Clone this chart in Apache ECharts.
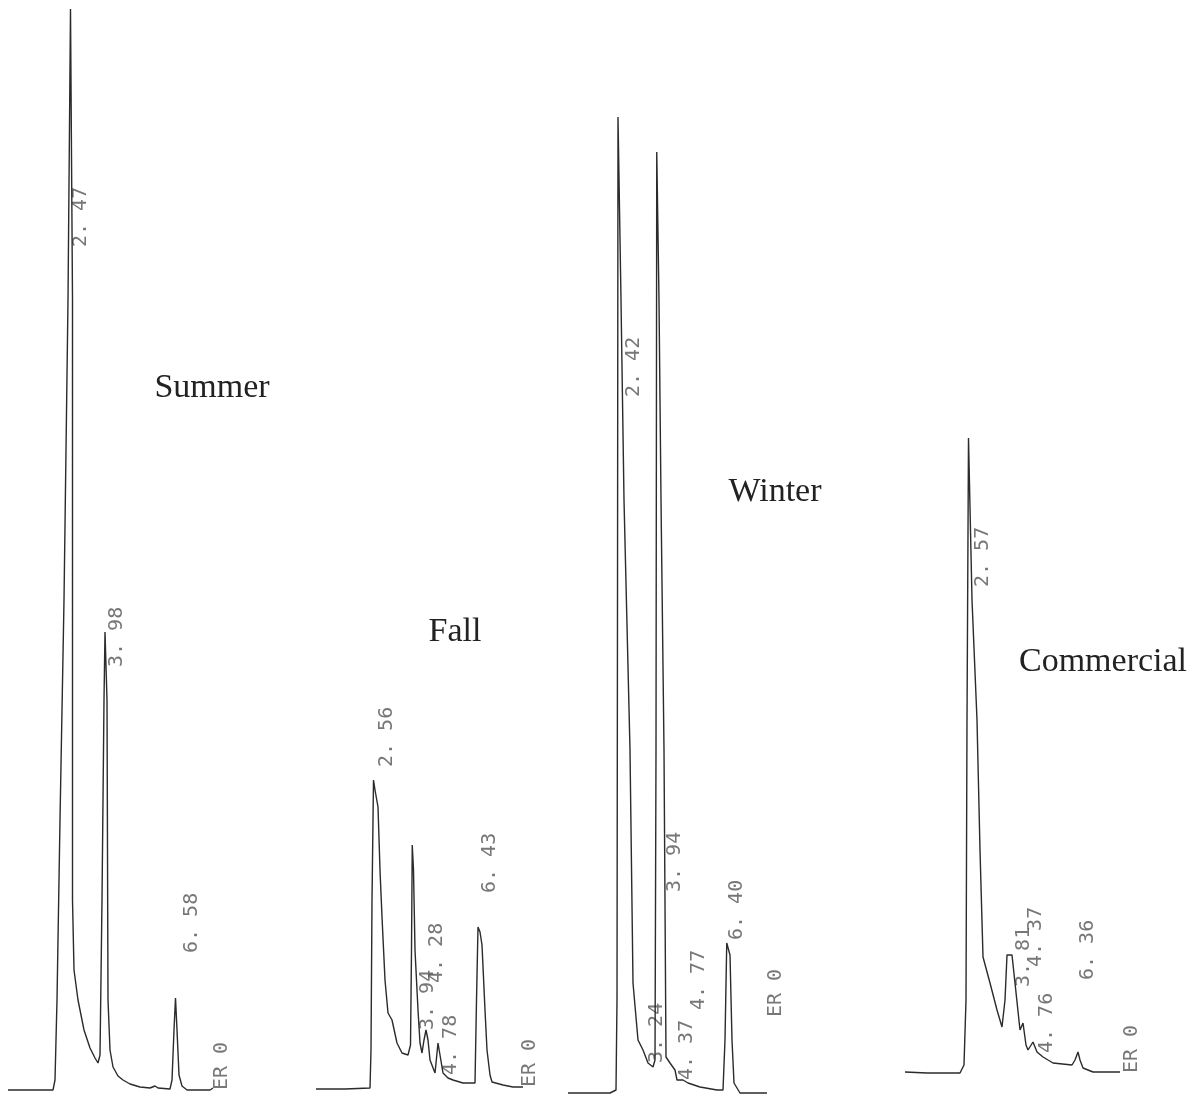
<!DOCTYPE html>
<html>
<head>
<meta charset="utf-8">
<title>Chromatograms by season</title>
<script src="https://cdn.jsdelivr.net/npm/echarts@6/dist/echarts.min.js"></script>
<style>
    html, body { margin: 0; padding: 0; background: #fff; }
    #main { width: 1198px; height: 1098px; }
</style>
</head>
<body>
<div id="main"></div>
<script>
// retention time (min) and detector signal
var summerTime   = [0, 1.80, 1.88, 1.96, 2.08, 2.24, 2.40, 2.50, 2.58, 2.58, 2.58, 2.58, 2.64, 2.80, 3.04, 3.28, 3.48, 3.60, 3.68, 3.76, 3.84, 3.88, 3.92, 3.96, 4.00, 4.08, 4.20, 4.40, 4.60, 4.88, 5.28, 5.68, 5.88, 6.00, 6.48, 6.56, 6.64, 6.70, 6.76, 6.84, 6.96, 7.16, 7.68, 8.08, 8.20];
var summerSignal = [0, 0, 10, 90, 270, 490, 790, 1081, 1081, 790, 490, 190, 120, 90, 60, 42, 32, 27, 35, 190, 390, 458, 458, 390, 90, 40, 23, 14, 10, 6, 3, 2, 4, 2, 1, 10, 60, 92, 60, 15, 4, 0, 0, 0, 2];
var summerPeaks  = ['2. 47', '3. 98', '6. 58', 'ER 0'];
var summerPeakT  = [2.92, 4.36, 7.36, 8.56];
var summerPeakV  = [843, 423, 137, 0];

var fallTime   = [0, 1.16, 2.16, 2.20, 2.24, 2.30, 2.36, 2.48, 2.56, 2.64, 2.76, 2.88, 3.04, 3.24, 3.44, 3.68, 3.78, 3.82, 3.85, 3.90, 3.96, 4.08, 4.16, 4.24, 4.32, 4.40, 4.48, 4.56, 4.76, 4.88, 4.96, 5.08, 5.28, 5.48, 5.88, 6.36, 6.42, 6.48, 6.56, 6.64, 6.76, 6.84, 6.96, 7.04, 7.48, 7.88, 8.28];
var fallSignal = [0, 0, 1, 39, 189, 309, 299, 282, 219, 172, 109, 76, 69, 46, 36, 34, 44, 139, 244, 219, 139, 79, 46, 36, 49, 59, 49, 29, 16, 46, 34, 16, 11, 9, 6, 6, 89, 162, 157, 144, 79, 39, 14, 7, 4, 2, 2];
var fallPeaks  = ['2. 56', '3. 94', '4. 28', '4. 78', '6. 43', 'ER 0'];
var fallPeakT  = [2.84, 4.48, 4.84, 5.40, 6.96, 8.56];
var fallPeakV  = [322, 59, 106, 14, 196, 2];

var winterTime   = [0, 1.68, 1.92, 1.96, 1.98, 2.00, 2.04, 2.12, 2.24, 2.48, 2.60, 2.80, 3.00, 3.20, 3.40, 3.48, 3.52, 3.55, 3.59, 3.64, 3.72, 3.84, 3.92, 4.08, 4.28, 4.36, 4.60, 4.80, 5.28, 5.96, 6.20, 6.28, 6.35, 6.40, 6.48, 6.56, 6.64, 6.88, 7.96];
var winterSignal = [0, 0, 3, 93, 493, 976, 976, 793, 593, 343, 110, 53, 43, 30, 26, 33, 343, 941, 941, 793, 593, 343, 36, 30, 23, 13, 13, 10, 6, 3, 3, 53, 150, 148, 138, 53, 10, 0, 0];
var winterPeaks  = ['2. 42', '3. 24', '3. 94', '4. 37', '4. 77', '6. 40', 'ER 0'];
var winterPeakT  = [2.64, 3.56, 4.28, 4.76, 5.24, 6.76, 8.32];
var winterPeakV  = [696, 30, 201, 13, 83, 153, 76];

var commTime   = [0, 0.88, 2.20, 2.36, 2.44, 2.48, 2.54, 2.68, 2.88, 3.00, 3.12, 3.40, 3.68, 3.88, 4.00, 4.08, 4.28, 4.40, 4.60, 4.72, 4.84, 4.92, 5.12, 5.28, 5.52, 5.92, 6.68, 6.80, 6.92, 7.00, 7.12, 7.52, 8.60];
var commSignal = [1, 0, 0, 8, 73, 353, 635, 473, 353, 223, 116, 90, 63, 46, 73, 118, 118, 90, 43, 50, 28, 23, 31, 21, 16, 10, 8, 13, 21, 13, 5, 1, 1];
var commPeaks  = ['2. 57', '3. 81', '4. 37', '4. 76', '6. 36', 'ER 0'];
var commPeakT  = [3.12, 4.76, 5.24, 5.68, 7.32, 9.08];
var commPeakV  = [486, 86, 106, 20, 93, 0];

var panelNames = ['Summer', 'Fall', 'Winter', 'Commercial'];

init();

function zip(xs, ys) {
    return xs.map(function (x, i) { return [x, ys[i]]; });
}

function peakItems(names, ts, vs) {
    return names.map(function (n, i) { return { name: n, value: [ts[i], vs[i]] }; });
}

function init() {
    var myChart = echarts.init(document.getElementById('main'), null, { renderer: 'canvas' });

    var traces = [
        zip(summerTime, summerSignal),
        zip(fallTime, fallSignal),
        zip(winterTime, winterSignal),
        zip(commTime, commSignal)
    ];
    var peaks = [
        peakItems(summerPeaks, summerPeakT, summerPeakV),
        peakItems(fallPeaks, fallPeakT, fallPeakV),
        peakItems(winterPeaks, winterPeakT, winterPeakV),
        peakItems(commPeaks, commPeakT, commPeakV)
    ];

    // each panel: left edge, width, baseline (px) and time span (min)
    var layout = [
        { left: 8,   width: 225, base: 1090, tmax: 9 },
        { left: 316, width: 225, base: 1089, tmax: 9 },
        { left: 568, width: 225, base: 1093, tmax: 9 },
        { left: 905, width: 250, base: 1073, tmax: 10 }
    ];
    var titlePos = [[212, 388], [455, 632], [775, 492], [1103, 662]];

    var grid = [], xAxis = [], yAxis = [], series = [], graphic = [];
    layout.forEach(function (p, i) {
        grid.push({ left: p.left, top: 0, width: p.width, height: p.base });
        xAxis.push({ type: 'value', gridIndex: i, min: 0, max: p.tmax, show: false });
        yAxis.push({ type: 'value', gridIndex: i, min: 0, max: p.base, show: false });
        series.push({
            type: 'line',
            xAxisIndex: i,
            yAxisIndex: i,
            data: traces[i],
            showSymbol: false,
            clip: false,
            lineStyle: { color: '#2b2b2b', width: 1.4 },
            silent: true
        });
        series.push({
            type: 'scatter',
            xAxisIndex: i,
            yAxisIndex: i,
            data: peaks[i],
            symbolSize: 1,
            itemStyle: { color: 'rgba(0,0,0,0)' },
            silent: true,
            label: {
                show: true,
                formatter: '{b}',
                position: 'inside',
                rotate: 90,
                align: 'left',
                verticalAlign: 'middle',
                fontFamily: 'DejaVu Sans Mono',
                fontSize: 20,
                color: '#555'
            }
        });
        graphic.push({
            type: 'text',
            x: titlePos[i][0],
            y: titlePos[i][1],
            style: {
                text: panelNames[i],
                font: '34px "Liberation Serif"',
                fill: '#222',
                textAlign: 'center',
                textVerticalAlign: 'middle',
                align: 'center',
                verticalAlign: 'middle'
            }
        });
    });

    option = {
        backgroundColor: '#fff',
        animation: false,
        grid: grid,
        xAxis: xAxis,
        yAxis: yAxis,
        series: series,
        graphic: graphic
    };
    myChart.setOption(option);
}
</script>
</body>
</html>
